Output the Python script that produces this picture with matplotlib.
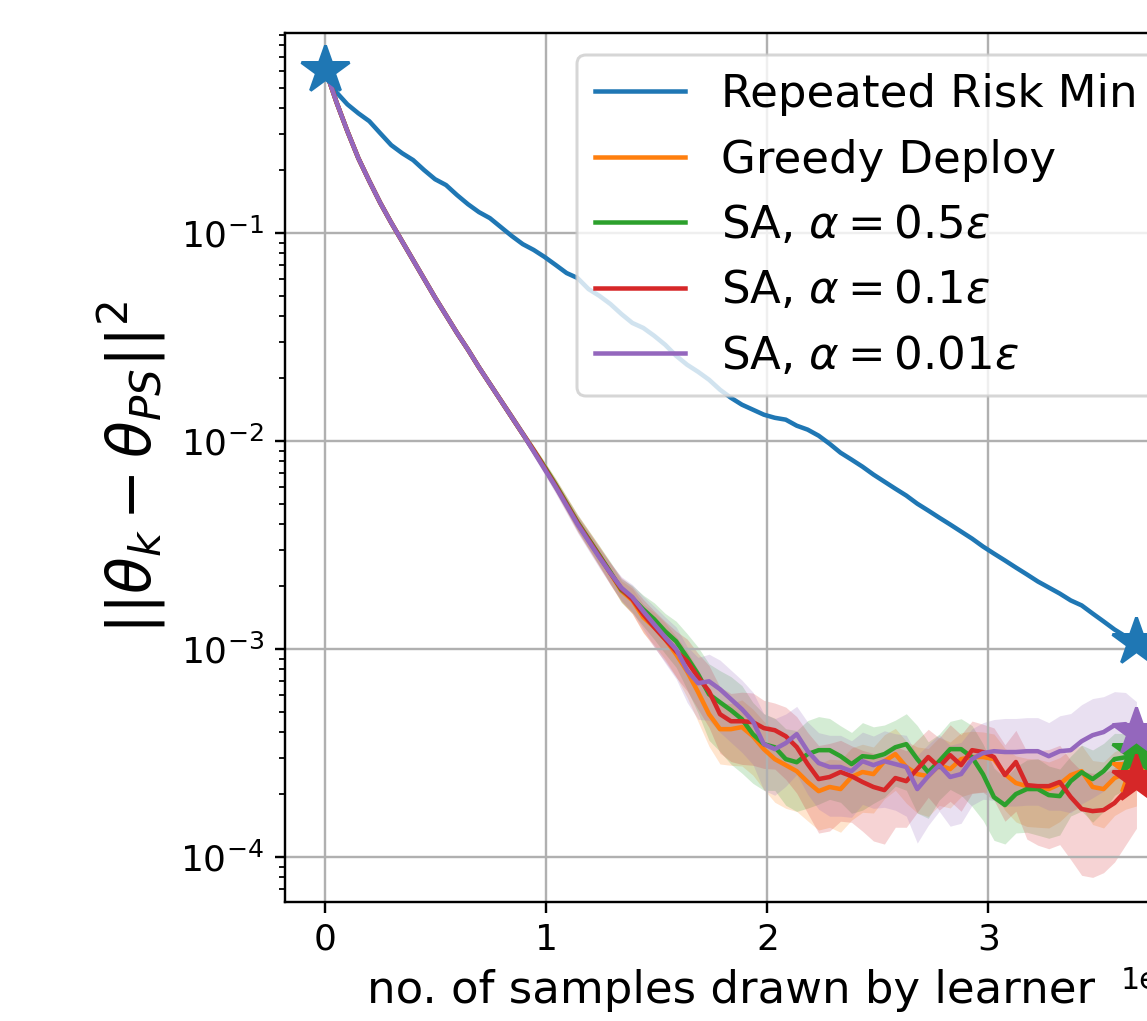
import numpy as np
import matplotlib
matplotlib.use("Agg")
import matplotlib.pyplot as plt
from matplotlib.patches import FancyBboxPatch
from matplotlib.transforms import IdentityTransform

# ---------------- data ----------------
samples_per_step = 4960
n_points = 75
x = np.arange(n_points) * samples_per_step   # number of samples drawn

labels = ["Repeated Risk Min", "Greedy Deploy",
          r"SA, $\alpha = 0.5\varepsilon$", r"SA, $\alpha = 0.1\varepsilon$",
          r"SA, $\alpha = 0.01\varepsilon$"]
colors = ["#1f77b4", "#ff7f0e", "#2ca02c", "#d62728", "#9467bd"]

# log10 of ||theta_k - theta_PS||^2
rrm_log10 = [-0.217, -0.323, -0.381, -0.424, -0.462, -0.520, -0.577, -0.616, -0.649, -0.697,
             -0.741, -0.769, -0.817, -0.861, -0.899, -0.928, -0.971, -1.014, -1.053, -1.081,
             -1.115, -1.153, -1.192, -1.216, -1.269, -1.302, -1.341, -1.389, -1.432, -1.456,
             -1.494, -1.537, -1.590, -1.633, -1.667, -1.705, -1.753, -1.792, -1.825, -1.849,
             -1.873, -1.888, -1.897, -1.926, -1.945, -1.974, -2.013, -2.056, -2.089, -2.123,
             -2.161, -2.195, -2.229, -2.262, -2.301, -2.334, -2.368, -2.401, -2.435, -2.469,
             -2.507, -2.541, -2.574, -2.608, -2.641, -2.675, -2.704, -2.733, -2.766, -2.790,
             -2.829, -2.867, -2.906, -2.939, -2.968]

greedy_log10 = [-0.215, -0.37, -0.51, -0.64, -0.75, -0.855, -0.95, -1.04, -1.13, -1.22,
                -1.31, -1.395, -1.48, -1.56, -1.645, -1.725, -1.805, -1.885, -1.965, -2.045,
                -2.125, -2.21, -2.30, -2.39, -2.47, -2.55, -2.635,
                -2.72, -2.765, -2.847, -2.895, -2.953, -3.025, -3.107, -3.207, -3.313, -3.385,
                -3.385, -3.375, -3.419, -3.481, -3.529, -3.558, -3.587, -3.639, -3.683, -3.663,
                -3.673, -3.615, -3.591, -3.601, -3.539, -3.505, -3.567, -3.601, -3.611, -3.558,
                -3.577, -3.529, -3.519, -3.519, -3.529, -3.601, -3.644, -3.659, -3.663, -3.673,
                -3.649, -3.606, -3.587, -3.663, -3.673, -3.620, -3.596, -3.587]

sa05_log10 = [-0.215, -0.37, -0.51, -0.64, -0.75, -0.855, -0.95, -1.04, -1.13, -1.22,
              -1.31, -1.395, -1.48, -1.56, -1.645, -1.725, -1.805, -1.885, -1.965, -2.045,
              -2.125, -2.21, -2.30, -2.39, -2.47, -2.55, -2.63,
              -2.715, -2.755, -2.809, -2.857, -2.915, -2.963, -3.040, -3.121, -3.217, -3.256,
              -3.294, -3.337, -3.409, -3.457, -3.472, -3.529, -3.544, -3.505, -3.486, -3.486,
              -3.515, -3.553, -3.515, -3.520, -3.505, -3.472, -3.457, -3.529, -3.592, -3.539,
              -3.481, -3.481, -3.520, -3.602, -3.712, -3.750, -3.697, -3.673, -3.673, -3.702,
              -3.707, -3.635, -3.592, -3.625, -3.587, -3.529, -3.520, -3.496]

sa01_log10 = [-0.215, -0.37, -0.51, -0.64, -0.75, -0.855, -0.95, -1.04, -1.13, -1.22,
              -1.31, -1.395, -1.48, -1.56, -1.645, -1.725, -1.805, -1.885, -1.965, -2.045,
              -2.13, -2.215, -2.305, -2.395, -2.475, -2.555, -2.635,
              -2.71, -2.76, -2.833, -2.895, -2.953, -3.011, -3.059, -3.135, -3.203, -3.313,
              -3.347, -3.347, -3.351, -3.380, -3.390, -3.419, -3.471, -3.553, -3.625, -3.615,
              -3.591, -3.611, -3.639, -3.663, -3.678, -3.620, -3.635, -3.577, -3.519, -3.567,
              -3.510, -3.558, -3.486, -3.495, -3.519, -3.606, -3.543, -3.654, -3.659, -3.659,
              -3.639, -3.711, -3.769, -3.779, -3.774, -3.740, -3.683, -3.625]

sa001_log10 = [-0.215, -0.37, -0.51, -0.64, -0.75, -0.855, -0.95, -1.04, -1.13, -1.22,
               -1.31, -1.395, -1.48, -1.56, -1.645, -1.725, -1.805, -1.885, -1.965, -2.05,
               -2.135, -2.22, -2.31, -2.40, -2.48, -2.56, -2.635,
               -2.705, -2.75, -2.818, -2.881, -2.943, -3.001, -3.102, -3.164, -3.155, -3.193,
               -3.241, -3.289, -3.347, -3.457, -3.481, -3.452, -3.409, -3.491, -3.548, -3.567,
               -3.567, -3.587, -3.539, -3.558, -3.539, -3.553, -3.567, -3.673, -3.611, -3.558,
               -3.615, -3.601, -3.529, -3.500, -3.491, -3.495, -3.495, -3.491, -3.491, -3.515,
               -3.491, -3.486, -3.443, -3.414, -3.399, -3.366, -3.361, -3.399]

# relative spread (std / mean) of the shaded bands
early_spread = [0.0, 0.01, 0.01, 0.015, 0.015, 0.02, 0.02, 0.02, 0.025, 0.025,
                0.03, 0.03, 0.035, 0.035, 0.04, 0.04, 0.045, 0.05, 0.05, 0.055,
                0.06, 0.07, 0.08, 0.09, 0.10, 0.11, 0.12]
rrm_spread = [0.0] * 27 + [0.0] * 48
greedy_spread = early_spread + [
    0.12, 0.14, 0.16, 0.18, 0.2, 0.22, 0.25, 0.28, 0.3, 0.32, 0.33, 0.35, 0.35, 0.36, 0.38, 0.38,
    0.36, 0.35, 0.35, 0.36, 0.38, 0.38, 0.36, 0.35, 0.34, 0.33, 0.33, 0.35, 0.36, 0.36, 0.35, 0.34,
    0.33, 0.32, 0.32, 0.33, 0.35, 0.36, 0.36, 0.35, 0.34, 0.33, 0.33, 0.34, 0.35, 0.34, 0.33, 0.32]
sa05_spread = early_spread + [
    0.13, 0.15, 0.17, 0.2, 0.22, 0.25, 0.3, 0.35, 0.4, 0.42, 0.45, 0.45, 0.42, 0.4, 0.38, 0.4,
    0.42, 0.45, 0.45, 0.42, 0.4, 0.42, 0.45, 0.4, 0.38, 0.35, 0.4, 0.45, 0.4, 0.35, 0.36, 0.4,
    0.42, 0.4, 0.38, 0.35, 0.35, 0.38, 0.4, 0.38, 0.35, 0.32, 0.35, 0.38, 0.36, 0.33, 0.3, 0.3]
sa01_spread = early_spread + [
    0.13, 0.15, 0.18, 0.2, 0.22, 0.25, 0.28, 0.3, 0.33, 0.35, 0.36, 0.38, 0.38, 0.36, 0.35, 0.38,
    0.4, 0.42, 0.45, 0.45, 0.42, 0.4, 0.42, 0.45, 0.45, 0.42, 0.4, 0.38, 0.36, 0.38, 0.4, 0.4,
    0.38, 0.36, 0.38, 0.4, 0.42, 0.45, 0.48, 0.5, 0.5, 0.5, 0.52, 0.52, 0.5, 0.48, 0.45, 0.42]
sa001_spread = early_spread + [
    0.13, 0.15, 0.18, 0.22, 0.25, 0.28, 0.3, 0.33, 0.35, 0.38, 0.38, 0.38, 0.38, 0.4, 0.4, 0.38,
    0.36, 0.38, 0.4, 0.42, 0.42, 0.4, 0.38, 0.38, 0.4, 0.4, 0.42, 0.45, 0.42, 0.4, 0.42, 0.42,
    0.4, 0.4, 0.42, 0.45, 0.45, 0.45, 0.45, 0.45, 0.48, 0.5, 0.5, 0.5, 0.48, 0.45, 0.42, 0.4]

series_log10 = [rrm_log10, greedy_log10, sa05_log10, sa01_log10, sa001_log10]
series_spread = [rrm_spread, greedy_spread, sa05_spread, sa01_spread, sa001_spread]

# ---------------- figure ----------------
DPI = 216
W, H = 1147, 1021
fig = plt.figure(figsize=(W / DPI, H / DPI), dpi=DPI)
ax_left, ax_right, ax_bottom, ax_top = 285, 1177, 902, 33
ax = fig.add_axes([ax_left / W, 1 - ax_bottom / H,
                   (ax_right - ax_left) / W, (ax_bottom - ax_top) / H])

for lg, sp, c, lab in zip(series_log10, series_spread, colors, labels):
    m = 10 ** np.array(lg)
    s = np.array(sp)
    ax.plot(x, m, color=c, lw=1.5, label=lab)
    if s.max() > 0:
        ax.fill_between(x, m * (1 - s), m * (1 + s), color=c, alpha=0.2, lw=0)

# stars at the final iterate of every method, then the common starting point
for lg, c in zip(series_log10, colors):
    ax.plot(x[-1], 10 ** lg[-1], marker="*", ms=16.5, color=c, ls="none", zorder=3)
ax.plot(x[0], 10 ** rrm_log10[0], marker="*", ms=16.5, color=colors[0], ls="none", zorder=3)

ax.set_yscale("log")
ax.set_xlim(-0.0499 * x[-1], 1.05 * x[-1])
ax.set_ylim(10 ** -4.216, 10 ** -0.038)
ax.ticklabel_format(axis="x", style="sci", scilimits=(0, 0))
ax.grid(True, which="major")
ax.tick_params(labelsize=12)
ax.set_xlabel("no. of samples drawn by learner", fontsize=15)
ax.set_ylabel(r"$||\theta_k - \theta_{PS}||^2$", fontsize=20)

leg = ax.legend(loc="upper left", bbox_to_anchor=(577 / W, 1 - 55 / H),
                bbox_transform=fig.transFigure, borderaxespad=0, fontsize=15)
fig.canvas.draw()
fr = leg.get_frame()
bb = leg.get_window_extent()
patch = FancyBboxPatch((bb.x0, bb.y0), W + 200 - bb.x0, bb.height,
                       boxstyle=fr.get_boxstyle(), mutation_scale=fr.get_mutation_scale(),
                       facecolor=fr.get_facecolor(), edgecolor=fr.get_edgecolor(),
                       linewidth=fr.get_linewidth(), transform=IdentityTransform(),
                       clip_on=False, zorder=4.9)
ax.add_artist(patch)
fr.set_visible(False)

fig.savefig("out.png", dpi=DPI)
